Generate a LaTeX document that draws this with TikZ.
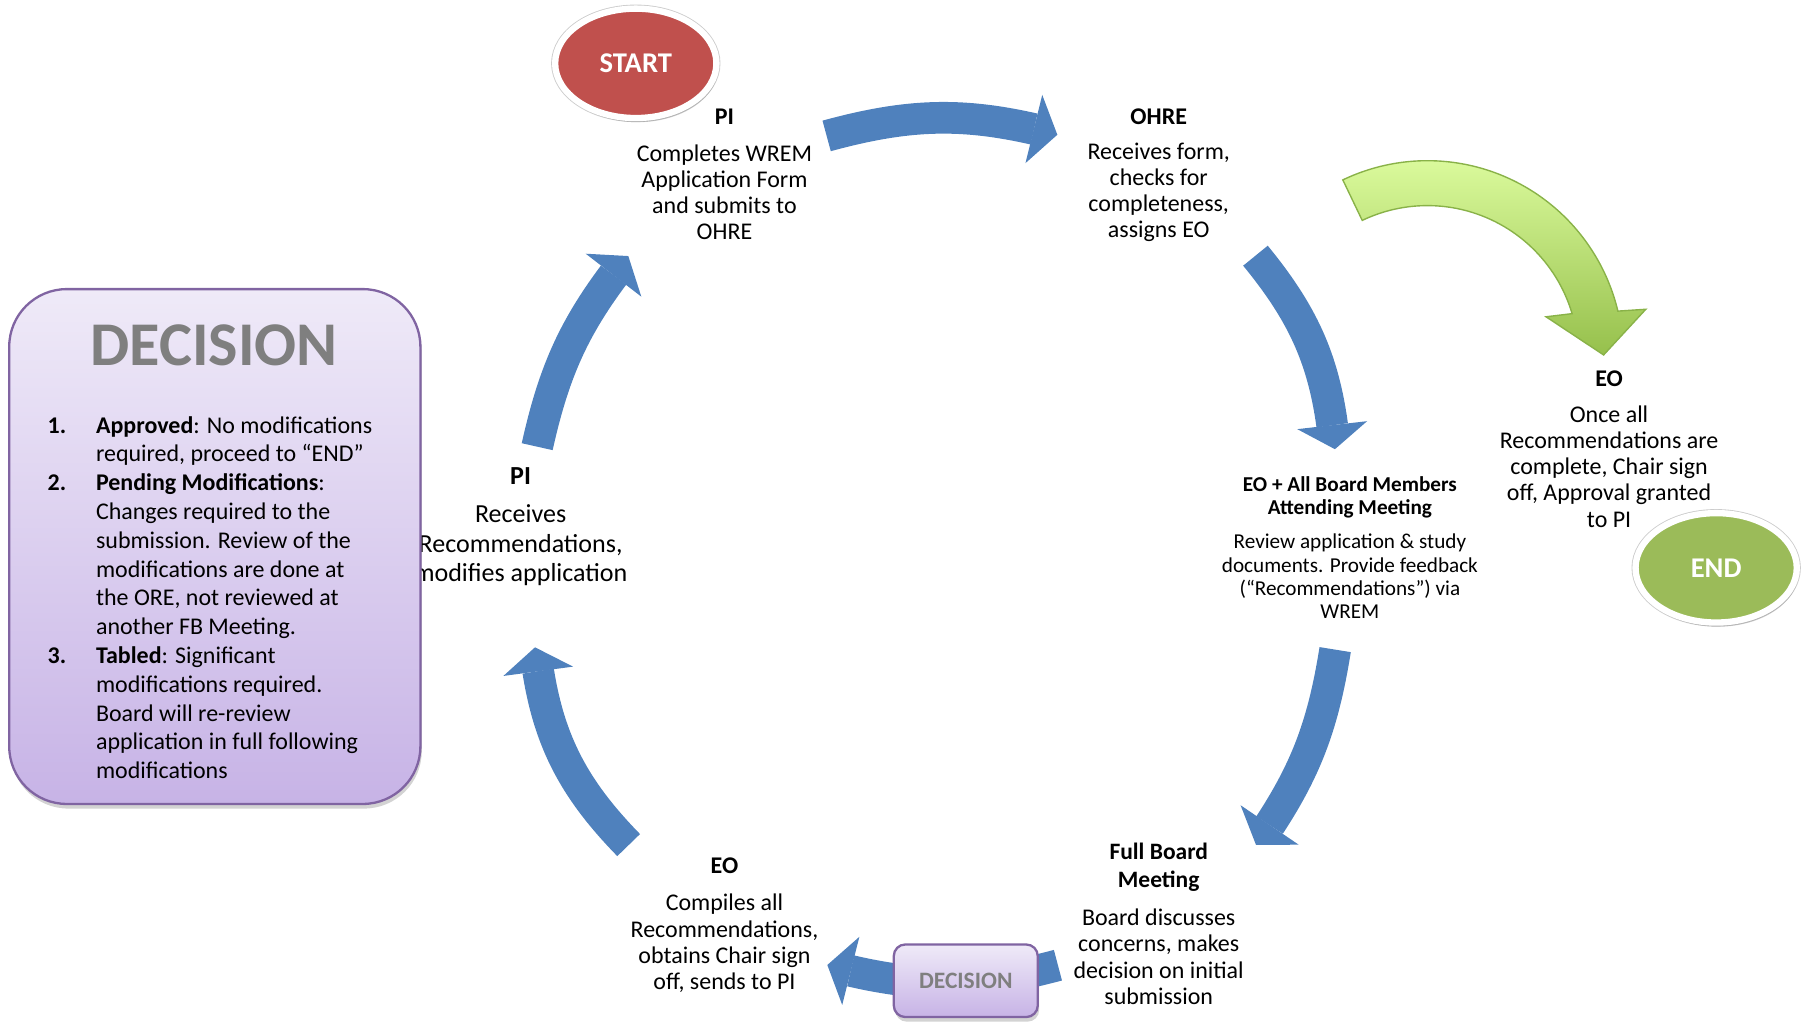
\documentclass[tikz,border=0pt]{standalone}
\usepackage{fontspec}
\setmainfont{Carlito}
\usetikzlibrary{arrows.meta, bending, positioning, shapes.geometric, shadows}

\definecolor{flowblue}{RGB}{79,129,189}
\definecolor{startred}{RGB}{192,80,77}
\definecolor{endgreen}{RGB}{155,187,89}
\definecolor{leaflight}{RGB}{222,253,160}
\definecolor{leafdark}{RGB}{150,192,76}
\definecolor{leafedge}{RGB}{137,178,72}
\definecolor{lilactop}{RGB}{239,234,248}
\definecolor{lilacbot}{RGB}{199,179,230}
\definecolor{lilacedge}{RGB}{128,100,162}
\definecolor{titlegrey}{RGB}{127,127,127}

\tikzset{
  cyclearrow/.style={draw=flowblue, line width=13.75pt, line cap=butt,
    -{Triangle[width=30.5pt, length=10.5pt, line width=0pt]}},
  rolelabel/.style={font=\bfseries\fontsize{10.4}{11.4}\selectfont, inner sep=0pt},
  tasklabel/.style={align=center, font=\fontsize{10.4}{11.35}\selectfont, inner sep=0pt},
  oval/.style={ellipse, minimum width=70pt, minimum height=47.5pt, draw=white,
    line width=2.75pt, text=white, font=\bfseries\fontsize{12.4}{14}\selectfont,
    preaction={draw=black!20, line width=3.5pt},
    drop shadow={shadow xshift=0.8pt, shadow yshift=-1.8pt, opacity=0.35}},
  decbox/.style={draw=lilacedge, line width=1pt, top color=lilactop, bottom color=lilacbot,
    drop shadow={shadow xshift=0.6pt, shadow yshift=-2pt, opacity=0.35}}
}

\begin{document}
\begin{tikzpicture}[x=0.5pt, y=0.5pt]
		\useasboundingbox (0,0) rectangle (1568,-889);

		% ends of the blue cycle arrows
		\coordinate (piOut) at (717.7,-118);
		\coordinate (ohreIn) at (918,-117);
		\coordinate (ohreOut) at (1090,-222);
		\coordinate (meetIn) at (1159,-390);
		\coordinate (meetOut) at (1159.2,-564);
		\coordinate (boardIn) at (1090.5,-733.6);
		\coordinate (boardOut) at (918.5,-838);
		\coordinate (eoIn) at (718.3,-837.8);
		\coordinate (eoOut) at (545.8,-733.7);
		\coordinate (backIn) at (464.5,-562);
		\coordinate (backOut) at (466.4,-387.8);
		\coordinate (piIn) at (545.5,-222.3);

		% Blue arrows round the cycle
		\draw[cyclearrow] (piOut) to[bend left=15] (ohreIn);
		\draw[cyclearrow] (ohreOut) to[bend left=17] (meetIn);
		\draw[cyclearrow] (meetOut) to[bend left=13] (boardIn);
		\draw[cyclearrow] (boardOut) to[bend left=15] (eoIn);
		\draw[cyclearrow] (eoOut) to[bend left=19] (backIn);
		\draw[cyclearrow] (backOut) to[bend left=13] (piIn);

		% Green arrow to the approval step
		\begin{scope}[shift={(1239.3,-309.5)}]
			\draw[draw=leafedge, line width=0.6pt, top color=leaflight, bottom color=leafdark]
				(115.6:170) arc[start angle=115.6, end angle=13.4, radius=170]
				-- (12.2:194) -- (0.5:153) -- (18.5:108.6) -- (16.5:131)
				arc[start angle=16.5, end angle=115.6, radius=131] -- cycle;
		\end{scope}

		% Start and end
		\node[oval, fill=startred] (start) at (552,-55) {START};
		\node[oval, fill=endgreen] (finish) at (1490,-493) {END};

		% Steps of the review
		\node[rolelabel] (piTop) at (629,-101) {PI};
		\node[tasklabel] (piTask) at (629,-167) {Completes WREM\\Application Form\\and submits to\\OHRE};

		\node[rolelabel] (ohre) at (1006,-101) {OHRE};
		\node[tasklabel] (ohreTask) at (1006,-167) {Receives form,\\checks for\\completeness,\\assigns EO};

		\node[rolelabel] (eoRight) at (1397,-329) {EO};
		\node[tasklabel] (eoRightTask) at (1397,-405) {Once all\\Recommendations are\\complete, Chair sign\\off, Approval granted\\to PI};

		\node[rolelabel, align=center, font=\bfseries\fontsize{9.2}{10}\selectfont] (members) at (1172,-432) {EO + All Board Members\\Attending Meeting};
		\node[tasklabel, font=\fontsize{9.2}{10.15}\selectfont] (membersTask) at (1172,-500.5) {Review application \& study\\documents. Provide feedback\\(“Recommendations”) via\\WREM};

		\node[rolelabel, align=center, font=\bfseries\fontsize{10.2}{12}\selectfont] (board) at (1006,-753) {Full Board\\Meeting};
		\node[tasklabel, font=\fontsize{10.4}{11.5}\selectfont] (boardTask) at (1006,-830.5) {Board discusses\\concerns, makes\\decision on initial\\submission};

		\node[rolelabel] (eoBottom) at (629,-752) {EO};
		\node[tasklabel] (eoBottomTask) at (629,-819) {Compiles all\\Recommendations,\\obtains Chair sign\\off, sends to PI};

		\node[rolelabel, font=\bfseries\fontsize{11.3}{12.5}\selectfont] (piLeft) at (452,-413) {PI};
		\node[tasklabel, font=\fontsize{11.3}{12.75}\selectfont] (piLeftTask) at (452,-473.5) {Receives\\Recommendations,\\modifies application};

		% Decision boxes
		\node[decbox, rounded corners=5pt, minimum width=62.5pt, minimum height=31.5pt,
			text=titlegrey, font=\bfseries\fontsize{10.2}{12}\selectfont] (decSmall) at (838.5,-851.5) {DECISION};

		\node[decbox, rounded corners=25pt, minimum width=178.5pt, minimum height=223.5pt] (decBig) at (186.5,-474.5) {};
		\node[text=titlegrey, font=\bfseries\fontsize{27}{30}\selectfont, inner sep=0pt] (decTitle) at (186,-300) {DECISION};
		\node[anchor=base west, inner sep=0pt, font=\fontsize{10.4}{12.5}\selectfont] (decList) at (41,-376) {%
			\begin{tabular}[t]{@{}p{21pt}@{}l@{}}
				\textbf{1.} & \textbf{Approved}: No modifications\\
				& required, proceed to “END”\\
				\textbf{2.} & \textbf{Pending Modifications}:\\
				& Changes required to the\\
				& submission. Review of the\\
				& modifications are done at\\
				& the ORE, not reviewed at\\
				& another FB Meeting.\\
				\textbf{3.} & \textbf{Tabled}: Significant\\
				& modifications required.\\
				& Board will re-review\\
				& application in full following\\
				& modifications
			\end{tabular}};

	\end{tikzpicture}
\end{document}
